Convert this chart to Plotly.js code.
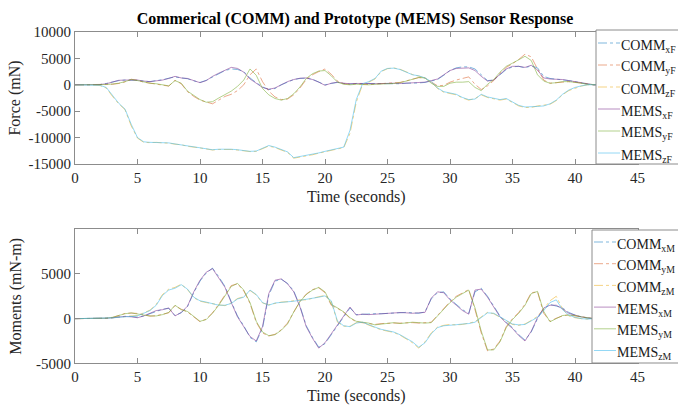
<!DOCTYPE html>
<html>
<head>
<meta charset="utf-8">
<script src="https://cdn.plot.ly/plotly-3.0.1.min.js"></script>
<style>html,body{margin:0;padding:0;background:#fff;}#chart{width:678px;height:405px;}</style>
</head>
<body>
<div id="chart"></div>
<script>
// time (seconds)
const time = [0,0.5,1,1.5,2,2.5,3,3.5,4,4.5,5,5.5,6,6.5,7,7.5,8,8.5,9,9.5,10,10.5,11,11.5,12,12.5,13,13.5,14,14.5,15,15.5,16,16.5,17,17.5,18,18.5,19,19.5,20,20.5,21,21.5,22,22.5,23,23.5,24,24.5,25,25.5,26,26.5,27,27.5,28,28.5,29,29.5,30,30.5,31,31.5,32,32.5,33,33.5,34,34.5,35,35.5,36,36.5,37,37.5,38,38.5,39,39.5,40,40.5,41,41.5,42];

// Forces (mN)
const commXF = [0,0,0,0,50,250,550,800,900,900, 850,700,600,800,950,1250,1500,1300,1150,750, 450,850,1500,2100,2700,3000,2900,2500,1300,400, -400,-900,-700,0,500,1000,1200,1250,1050,600, 0,250,450,250,150,250,250,200,150,250, 150,250,200,300,300,350,450,750,1000,1800, 2700,3200,3400,3400,3000,1900,800,900,1900,2900, 3400,3500,3200,3600,3200,1600,1200,1100,1000,800, 600,300,100,0,0];
const commYF = [0,0,0,0,0,50,100,250,550,1050, 850,500,300,150,-50,-250,850,200,-1300,-2200, -2900,-3300,-3600,-2900,-2200,-1800,-1100,0,1900,3000, 600,-1200,-2300,-2800,-2700,-1900,-600,1000,1900,2500, 3000,2000,700,200,100,200,100,50,150,200, 250,300,450,750,1100,1350,1300,500,-200,-100, 500,900,1200,1500,100,-900,-200,800,2200,3300, 4000,4800,5800,5300,3000,900,300,400,600,600, 500,300,100,0,0];
const commZF = [0,0,0,-50,-150,-600,-2200,-3600,-4700,-7800, -10100,-10900,-10950,-10900,-11000,-11050,-11250,-11350,-11650,-11750, -11950,-12150,-12350,-12250,-12200,-12250,-12350,-12500,-12650,-12600, -12100,-11600,-11900,-12300,-12800,-13900,-13700,-13450,-13250,-12950, -12650,-12350,-12150,-11900,-9200,-3300,0,500,1100,2500, 3050,3200,2950,2450,1950,1650,1250,500,-700,-1400, -1700,-1900,-2500,-2900,-2600,-1900,-2400,-2600,-2900,-2700, -3300,-4000,-4300,-4300,-4000,-3900,-3700,-3000,-1900,-1100, -600,-250,0,0,0];
const memsXF = [0,0,0,0,50,200,500,850,900,850, 900,700,600,750,900,1200,1600,1300,1200,800, 400,800,1600,2200,2800,3300,3100,2400,1100,300, -500,-850,-600,0,600,1000,1250,1300,1000,500, -100,300,500,300,200,250,300,250,200,250, 200,300,250,300,350,400,500,800,1100,1900, 2700,3100,3200,3200,2700,1600,700,900,2000,3000, 3500,3500,3300,3700,2800,1300,1100,1100,1000,800, 600,300,100,0,0];
const memsYF = [0,0,0,0,0,50,150,300,600,1000, 800,500,300,200,0,-200,800,300,-1200,-2000, -2800,-3300,-3200,-2500,-1900,-1200,-300,900,3000,1800, -700,-1900,-2600,-2900,-2600,-1700,-400,1200,2100,2600, 2700,1700,500,100,0,100,50,0,100,200, 200,250,400,700,1100,1400,1300,300,-300,-300, 300,500,500,600,-500,-1100,100,1000,2400,3500, 4100,4700,5400,4600,1900,700,300,400,600,600, 500,300,100,0,0];
const memsZF = [0,0,0,-50,-100,-500,-2000,-3500,-4600,-7500, -10000,-10800,-10900,-10900,-10950,-11000,-11200,-11400,-11600,-11700, -11900,-12100,-12300,-12200,-12150,-12200,-12300,-12450,-12600,-12550, -12000,-11500,-11800,-12200,-12700,-13800,-13600,-13400,-13200,-12900, -12600,-12300,-12100,-11800,-8600,-2800,200,600,1200,2600, 3100,3150,2900,2400,1900,1700,1300,600,-600,-1300, -1600,-1800,-2400,-2800,-2700,-1800,-2300,-2500,-2800,-2600, -3200,-3900,-4200,-4200,-4100,-4000,-3600,-2900,-1800,-1000, -500,-200,0,0,0];

// Moments (mN-m)
const commXM = [0,0,0,0,0,50,100,200,250,250, 150,300,550,850,1050,1150,350,650,1350,2900, 4200,5100,5650,4700,3600,1900,300,-800,-2100,-2600, -1100,2600,4200,4400,3950,3100,1400,-800,-2100,-3200, -2800,-1800,-800,300,1200,450,500,500,550,550, 600,650,650,700,650,600,750,2200,2900,3000, 2200,1600,1000,600,3000,3400,2500,1400,300,-400, -1000,-1800,-2400,-1500,0,1100,1600,1400,1200,700, 400,200,50,0,0];
const commYM = [0,0,0,0,0,30,120,330,580,620, 580,420,280,320,480,650,1450,1050,750,250, -350,-50,650,1600,2700,3700,3900,3100,1700,-400, -1600,-1950,-1750,-1250,-500,800,1950,2750,3250,3450, 2900,1500,1150,700,50,-350,-450,-550,-650,-550, -500,-500,-500,-450,-450,-500,-450,-400,350,1100, 1900,2500,2900,3250,1000,-1600,-3600,-3400,-2500,-900, 0,700,1600,2900,3000,600,-300,50,300,450, 300,200,50,0,0];
const commZM = [0,0,0,0,0,40,100,180,230,280, 350,650,950,1600,2700,3300,3500,3850,3250,2350, 1950,1800,1650,1550,1450,1750,2250,2450,3150,2650, 1750,1550,1700,1850,1900,2000,2100,2100,2300,2450, 2600,1900,-400,-850,-850,-450,-450,-750,-1000,-1250, -1400,-1550,-1850,-2250,-2700,-3300,-2600,-1600,-950,-750, -650,-700,-650,-500,-350,200,700,550,150,-250, -650,-750,-600,-200,250,1100,2000,2500,1100,300, 100,0,-50,0,0];
const memsXM = [0,0,0,0,0,50,100,200,250,200, 100,300,600,900,1000,1200,300,700,1400,3000, 4300,5200,5600,4600,3500,1800,200,-900,-2000,-2500, -900,2800,4300,4450,3900,3000,1300,-900,-2200,-3300, -2700,-1700,-700,400,1300,400,500,450,500,550, 560,600,680,650,600,650,700,2300,3000,2900, 2100,1500,900,500,3200,3300,2400,1300,200,-500, -1100,-1900,-2500,-1400,100,1200,1500,1500,1100,600, 400,200,100,0,0];
const memsYM = [0,0,0,0,0,50,150,350,550,640, 560,400,300,300,450,700,1500,1000,800,300, -300,-100,600,1500,2600,3600,3950,3200,1800,-300, -1500,-1900,-1800,-1300,-600,750,1900,2700,3200,3500, 3000,1600,1200,750,100,-300,-400,-500,-700,-600, -500,-450,-550,-500,-400,-450,-500,-450,300,1000, 1800,2400,2800,3200,1200,-1400,-3500,-3500,-2600,-1000, -100,600,1500,2800,3050,800,-350,0,350,400, 350,200,100,0,0];
const memsZM = [0,0,0,0,0,30,80,150,200,250, 300,600,900,1500,2600,3200,3400,3800,3300,2400, 2000,1850,1700,1500,1500,1700,2200,2400,3200,2700, 1800,1500,1750,1800,1850,1950,2050,2150,2250,2400, 2550,2000,-300,-800,-900,-500,-400,-700,-950,-1200, -1350,-1500,-1800,-2200,-2600,-3200,-2700,-1700,-1000,-800, -700,-680,-600,-550,-400,100,650,600,200,-200, -600,-700,-650,-250,150,900,1800,2100,1000,400, 150,0,-50,0,0];

// Legend names
const forceNames = ['COMM<sub>xF</sub>','COMM<sub>yF</sub>','COMM<sub>zF</sub>','MEMS<sub>xF</sub>','MEMS<sub>yF</sub>','MEMS<sub>zF</sub>'];
const momentNames = ['COMM<sub>xM</sub>','COMM<sub>yM</sub>','COMM<sub>zM</sub>','MEMS<sub>xM</sub>','MEMS<sub>yM</sub>','MEMS<sub>zM</sub>'];

// Tick labels
const xTicks = [0,5,10,15,20,25,30,35,40,45];
const forceTicks = [-15000,-10000,-5000,0,5000,10000];
const forceTickText = ['-15000','-10000','-5000','0','5000','10000'];
const momentTicks = [-5000,0,5000];
const momentTickText = ['-5000','0','5000'];

const colors = ['rgba(0,114,189,0.5)','rgba(217,83,25,0.5)','rgba(237,177,32,0.55)','rgba(126,47,142,0.55)','rgba(119,172,48,0.55)','rgba(77,190,238,0.6)'];
const dashes = ['dashdot','dashdot','dashdot','solid','solid','solid'];

const forceSeries = [commXF, commYF, commZF, memsXF, memsYF, memsZF];
const momentSeries = [commXM, commYM, commZM, memsXM, memsYM, memsZM];

const FONT = '"Liberation Serif", "Times New Roman", serif';
const W = 678, H = 405;
const px = v => v / W;
const py = v => 1 - v / H;

const traces = [];
forceSeries.forEach((s, i) => traces.push({
  x: time, y: s, type: 'scatter', mode: 'lines', name: forceNames[i], showlegend: false,
  line: {color: colors[i], width: 1, dash: dashes[i]}, xaxis: 'x', yaxis: 'y'
}));
momentSeries.forEach((s, i) => traces.push({
  x: time, y: s, type: 'scatter', mode: 'lines', name: momentNames[i], showlegend: false,
  line: {color: colors[i], width: 1, dash: dashes[i]}, xaxis: 'x2', yaxis: 'y2'
}));

// Hand-drawn legend boxes (MATLAB-style, running off the right edge)
const shapes = [], annotations = [];
function legendBox(names, left, top, bottom, firstRow, rowStep, lineX0, lineX1, textX) {
  shapes.push({type: 'rect', xref: 'paper', yref: 'paper', x0: px(left), x1: px(W + 5),
    y0: py(bottom), y1: py(top), line: {color: '#8c8c8c', width: 1}, fillcolor: '#ffffff', layer: 'above'});
  names.forEach((n, i) => {
    const yy = firstRow + rowStep * i;
    shapes.push({type: 'line', xref: 'paper', yref: 'paper', x0: px(lineX0), x1: px(lineX1),
      y0: py(yy), y1: py(yy), line: {color: colors[i], width: 1, dash: dashes[i]}, layer: 'above'});
    annotations.push({text: n, xref: 'paper', yref: 'paper', x: px(textX), y: py(yy + 3),
      xanchor: 'left', yanchor: 'middle', showarrow: false,
      font: {family: FONT, size: 14, color: '#1a1a1a'}});
  });
}
legendBox(forceNames, 596, 30, 164, 43, 22, 598, 620, 619);
legendBox(momentNames, 592, 230, 363, 242, 21.7, 594, 616, 615);

const axCol = '#8c8c8c';
const tickFont = {family: FONT, size: 15, color: '#262626'};
const titleFont = {family: FONT, size: 16, color: '#262626'};
function xax(anchor) {
  return {
    domain: [px(75), px(637.5)], range: [0, 45], tickvals: xTicks, ticks: 'inside', ticklen: 5,
    showline: true, mirror: 'ticks', linecolor: axCol, tickcolor: axCol, linewidth: 1,
    showgrid: false, zeroline: false, tickfont: tickFont, anchor: anchor,
    title: {text: 'Time (seconds)', font: titleFont, standoff: 5}
  };
}
function yax(domain, range, tv, tt, title, anchor, standoff) {
  return {domain: domain, range: range, tickvals: tv, ticktext: tt,
    ticks: 'inside', ticklen: 5, showline: true, mirror: 'ticks', linecolor: axCol, tickcolor: axCol,
    showgrid: false, zeroline: false, tickfont: tickFont, anchor: anchor,
    title: {text: title, font: titleFont, standoff: standoff}};
}

const layout = {
  width: W, height: H,
  margin: {l: 0, r: 0, t: 0, b: 0},
  paper_bgcolor: '#ffffff', plot_bgcolor: '#ffffff',
  showlegend: false,
  title: {text: '<b>Commerical (COMM) and Prototype (MEMS) Sensor Response</b>',
    font: {family: FONT, size: 16, color: '#000000'}, xref: 'paper', yref: 'paper',
    x: px(355), xanchor: 'center', y: py(18), yanchor: 'middle'},
  xaxis: xax('y'),
  yaxis: yax([py(164), py(32)], [-15000, 10000], forceTicks, forceTickText, 'Force (mN)', 'x', 3),
  xaxis2: xax('y2'),
  yaxis2: yax([py(363.3), py(229.3)], [-5000, 10000], momentTicks, momentTickText, 'Moments (mN-m)', 'x2', 10),
  shapes: shapes,
  annotations: annotations
};

Plotly.newPlot('chart', traces, layout, {displayModeBar: false, staticPlot: true});
</script>
</body>
</html>
